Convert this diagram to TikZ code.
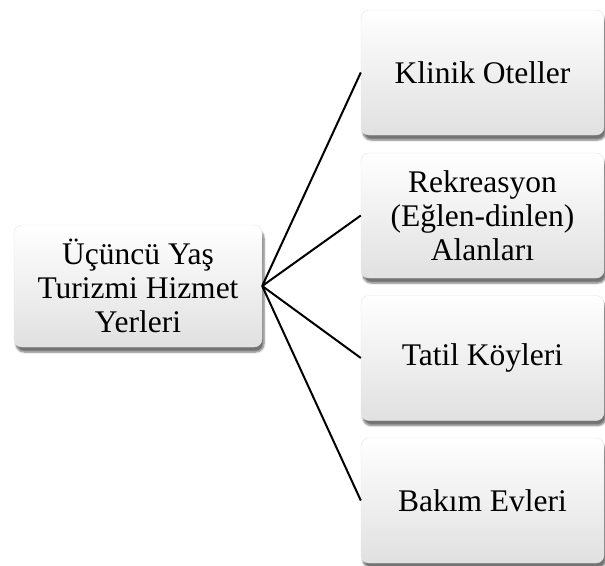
\documentclass[tikz,border=0pt]{standalone}
\usepackage{fontspec}
\setmainfont{Liberation Serif}
\usetikzlibrary{shadows.blur}
\tikzset{
  card/.style={rounded corners=8pt, draw=gray!20, line width=0.4pt,
    top color=white, bottom color=gray!24, align=center,
    font=\fontsize{31.5}{34}\selectfont, inner sep=0pt,
    blur shadow={shadow xshift=2pt, shadow yshift=-5pt, shadow blur steps=6, shadow opacity=55}},
  hubbox/.style={card, minimum width=248pt, minimum height=122pt},
  leaf/.style={card, minimum width=243pt, minimum height=125pt},
  link/.style={line width=2pt, black}
}
\begin{document}
\begin{tikzpicture}[x=1pt,y=-1pt]
  \useasboundingbox (0,0) rectangle (605,565);
  \node[hubbox] (hub) at (138,286) {Üçüncü Yaş\\Turizmi Hizmet\\Yerleri};
  \node[leaf] (k1) at (482.5,72.5) {Klinik Oteller};
  \node[leaf] (k2) at (482.5,215.5) {Rekreasyon\\(Eğlen-dinlen)\\Alanları};
  \node[leaf] (k3) at (482.5,358) {Tatil Köyleri};
  \node[leaf] (k4) at (482.5,500.5) {Bakım Evleri};
  % branches fan out from the right side of the hub
  \foreach \t in {k1,k2,k3,k4}
    \draw[link] (hub.east) -- (\t.west);
\end{tikzpicture}
\end{document}
